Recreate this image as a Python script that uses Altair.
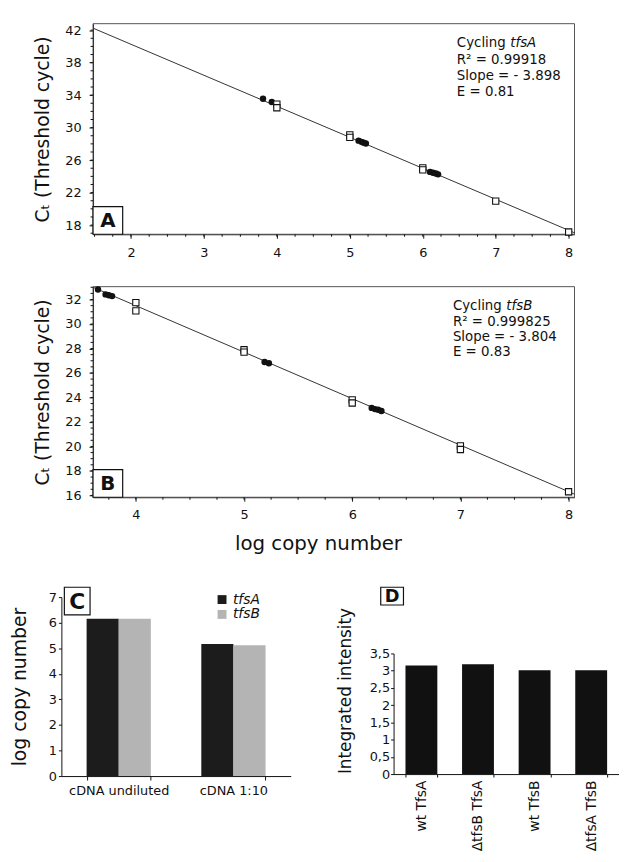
import altair as alt
import pandas as pd
import numpy as np

FONT = "DejaVu Sans"
INK = "#111111"

# ---------------- Panel A (tfsA standard curve) ----------------
a_std_x = [4, 4, 5, 5, 6, 6, 7, 8]
a_std_y = [32.9, 32.45, 29.1, 28.8, 25.05, 24.8, 20.95, 17.15]
a_smp_x = [3.81, 3.93, 5.12, 5.16, 5.19, 5.22, 6.10, 6.14, 6.18, 6.21]
a_smp_y = [33.55, 33.15, 28.4, 28.25, 28.15, 28.05, 24.55, 24.45, 24.35, 24.25]
a_fit_x = [1.48, 8.08]
a_fit_y = [42.25, 17.05]
a_xdom = [1.48, 8.08]
a_ydom = [16.87, 42.8]
a_xticks = [2, 3, 4, 5, 6, 7, 8]
a_yticks = [18, 22, 26, 30, 34, 38, 42]
a_xminor = list(np.arange(1.5, 8.01, 0.25))
a_yminor = list(range(17, 43))
a_gene = "tfsA"
a_lines = ["R² = 0.99918", "Slope = - 3.898", "E = 0.81"]

# ---------------- Panel B (tfsB standard curve) ----------------
b_std_x = [4, 4, 5, 5, 6, 6, 7, 7, 8]
b_std_y = [31.75, 31.07, 27.9, 27.7, 23.8, 23.55, 20.05, 19.75, 16.3]
b_smp_x = [3.65, 3.72, 3.75, 3.78, 5.19, 5.23, 6.18, 6.21, 6.24, 6.27]
b_smp_y = [32.82, 32.42, 32.35, 32.28, 26.9, 26.8, 23.15, 23.05, 23.0, 22.9]
b_fit_x = [3.604, 8.055]
b_fit_y = [33.0, 16.1]
b_xdom = [3.604, 8.055]
b_ydom = [15.85, 33.05]
b_xticks = [4, 5, 6, 7, 8]
b_yticks = [16, 18, 20, 22, 24, 26, 28, 30, 32]
b_xminor = list(np.arange(3.75, 8.01, 0.25))
b_yminor = list(np.arange(16, 33.01, 0.5))
b_gene = "tfsB"
b_lines = ["R² = 0.999825", "Slope = - 3.804", "E = 0.83"]

# ---------------- Panel C ----------------
c_cat = ["cDNA undiluted", "cDNA undiluted", "cDNA 1:10", "cDNA 1:10"]
c_series = ["tfsA", "tfsB", "tfsA", "tfsB"]
c_val = [6.15, 6.15, 5.17, 5.12]
c_order = ["cDNA undiluted", "cDNA 1:10"]
c_yticks = [0, 1, 2, 3, 4, 5, 6, 7]

# ---------------- Panel D ----------------
d_cat = ["wt TfsA", "ΔtfsB TfsA", "wt TfsB", "ΔtfsA TfsB"]
d_val = [3.15, 3.19, 3.01, 3.01]
d_yticks = [0, 0.5, 1, 1.5, 2, 2.5, 3, 3.5]


def txt(t, x, y, size, style="normal", weight="normal", align="left"):
    return alt.Chart(pd.DataFrame({"t": [t]})).mark_text(
        align=align, baseline="middle", fontSize=size, fontStyle=style,
        fontWeight=weight, font=FONT, color=INK
    ).encode(text="t:N", x=alt.value(x), y=alt.value(y))


def box(letter, x0, x1, y0, y1, size):
    b = alt.Chart(pd.DataFrame({"t": [letter]})).mark_rect(
        fill="white", stroke=INK, strokeWidth=1.2
    ).encode(x=alt.value(x0), x2=alt.value(x1), y=alt.value(y0), y2=alt.value(y1))
    return [b, txt(letter, (x0 + x1) / 2, (y0 + y1) / 2 + 1, size, weight="bold", align="center")]


INSET = 32  # plot area of panels A/B starts this far right of the column origin


def scatter_panel(std_x, std_y, smp_x, smp_y, fit_x, fit_y, xdom, ydom, xticks, yticks,
                  xminor, yminor, gene, lines, letter, tx, gap, x_title, W, H):
    xaxis = dict(values=xticks, tickSize=4, labelPadding=8, labelFontSize=13,
                 labelColor=INK, domainColor=INK, tickColor=INK, grid=False)
    xscale = alt.Scale(domain=xdom, nice=False, zero=False, range=[INSET, INSET + W])
    if x_title:
        X = alt.X("x:Q", scale=xscale,
                  axis=alt.Axis(title=x_title, titleFontSize=20, titleFontWeight="normal",
                                titlePadding=12, titleColor=INK, titleX=259.5,
                                **xaxis))
    else:
        X = alt.X("x:Q", scale=xscale, axis=alt.Axis(title=None, **xaxis))
    Y = alt.Y("y:Q", scale=alt.Scale(domain=ydom, nice=False, zero=False),
              axis=alt.Axis(values=yticks, tickSize=4, labelPadding=8, labelFontSize=13,
                            labelColor=INK, domainColor=INK, tickColor=INK, grid=False,
                            offset=-INSET,
                            title="Cₜ (Threshold cycle)", titleFontSize=19,
                            titleFontWeight="normal", titleColor=INK, titleX=-51,
                            titleBaseline="middle", titleAngle=270, titleAlign="center"))
    frame = alt.Chart(pd.DataFrame({"t": [letter]})).mark_rect(
        fillOpacity=0, stroke="#555555", strokeWidth=1
    ).encode(x=alt.value(INSET), x2=alt.value(INSET + W), y=alt.value(0), y2=alt.value(H))
    fit = alt.Chart(pd.DataFrame({"x": fit_x, "y": fit_y})).mark_line(
        color="#333333", strokeWidth=1).encode(x=X, y=Y)
    smp = alt.Chart(pd.DataFrame({"x": smp_x, "y": smp_y})).mark_circle(
        size=42, color=INK, opacity=1).encode(x=X, y=Y)
    std = alt.Chart(pd.DataFrame({"x": std_x, "y": std_y})).mark_square(
        size=40, fill="white", stroke=INK, strokeWidth=1.1, opacity=1).encode(x=X, y=Y)
    ymin = alt.Chart(pd.DataFrame({"y": yminor})).mark_rule(color=INK, strokeWidth=1).encode(
        y=Y, x=alt.value(INSET - 2.5), x2=alt.value(INSET))
    xmin = alt.Chart(pd.DataFrame({"x": xminor})).mark_rule(color=INK, strokeWidth=1).encode(
        x=X, y=alt.value(H), y2=alt.value(H + 2.5))
    ann = [txt("Cycling", INSET + tx, 20, 13.5),
           txt(gene, INSET + tx + 54, 20, 13.5, style="italic")]
    for i, t in enumerate(lines):
        ann.append(txt(t, INSET + tx, 20 + gap * (i + 1), 13.5))
    layers = [frame, ymin, xmin, fit, smp, std] + box(letter, INSET, INSET + 30, H - 28, H, 20) + ann
    return alt.layer(*layers).properties(width=INSET + W, height=H)


A = scatter_panel(a_std_x, a_std_y, a_smp_x, a_smp_y, a_fit_x, a_fit_y, a_xdom, a_ydom,
                  a_xticks, a_yticks, a_xminor, a_yminor, a_gene, a_lines, "A", 368, 16.5,
                  None, 487, 213)
B = scatter_panel(b_std_x, b_std_y, b_smp_x, b_smp_y, b_fit_x, b_fit_y, b_xdom, b_ydom,
                  b_xticks, b_yticks, b_xminor, b_yminor, b_gene, b_lines, "B", 364, 15.5,
                  "log copy number", 487, 213)

# ---- Panel C ----
c_df = pd.DataFrame({"cat": c_cat, "series": c_series, "val": c_val})
c_bars = alt.Chart(c_df).mark_bar().encode(
    x=alt.X("cat:N", sort=c_order,
            scale=alt.Scale(paddingInner=0.44, paddingOuter=0.22),
            axis=alt.Axis(title=None, labelAngle=0, tickBand="extent", tickSize=4,
                          labelPadding=5, labelFontSize=13, labelColor=INK,
                          domainColor=INK, tickColor=INK, grid=False)),
    xOffset=alt.XOffset("series:N", scale=alt.Scale(paddingInner=0, paddingOuter=0)),
    y=alt.Y("val:Q", scale=alt.Scale(domain=[0, 7], nice=False),
            axis=alt.Axis(values=c_yticks, tickSize=3, labelPadding=2, labelFontSize=13,
                          labelColor=INK, domainColor=INK, tickColor=INK, grid=False,
                          title="log copy number", titleFontSize=19, titleFontWeight="normal",
                          titleColor=INK, titleX=-42, titleBaseline="middle",
                          titleAngle=270, titleAlign="center")),
    color=alt.Color("series:N",
                    scale=alt.Scale(domain=["tfsA", "tfsB"], range=["#1c1c1c", "#b4b4b4"]),
                    legend=alt.Legend(orient="none", legendX=155.5, legendY=-4.5, title=None,
                                      symbolType="square", symbolSize=81,
                                      symbolStrokeWidth=0, labelFontSize=14,
                                      labelFontStyle="italic", labelColor=INK, padding=0,
                                      rowPadding=1, labelOffset=4)),
)
C = alt.layer(c_bars, *box("C", 3, 29, -10, 18, 22)).properties(width=232, height=181)

# ---- Panel D ----
D_H = 179
D_TOP = 57
d_df = pd.DataFrame({"cat": d_cat, "val": d_val})
d_bars = alt.Chart(d_df).mark_bar(color=INK).encode(
    x=alt.X("cat:N", sort=d_cat,
            scale=alt.Scale(paddingInner=0.437, paddingOuter=0.21),
            axis=alt.Axis(title=None, labelAngle=270, tickBand="extent", tickSize=3,
                          labelPadding=3, labelFontSize=14, labelColor=INK,
                          domainColor=INK, tickColor=INK, grid=False)),
    y=alt.Y("val:Q", scale=alt.Scale(domain=[0, 3.5], nice=False, range=[D_H, D_TOP]),
            axis=alt.Axis(values=d_yticks, tickSize=3, labelPadding=1, labelFontSize=13,
                          labelColor=INK, domainColor=INK, tickColor=INK, grid=False,
                          labelExpr="replace(toString(datum.value), '.', ',')",
                          title="Integrated intensity", titleFontSize=17,
                          titleFontWeight="normal", titleColor=INK, titleX=-49, titleY=94.5,
                          titleBaseline="middle", titleAngle=270, titleAlign="center")),
)
D = alt.layer(d_bars, *box("D", -13, 10, -10, 8, 18)).properties(width=228, height=D_H)

top = alt.vconcat(A, B, spacing=26)
bottom = alt.hconcat(C, D, spacing=46).resolve_legend(color="independent")

chart = alt.vconcat(top, bottom, spacing=33).resolve_legend(
    color="independent"
).properties(
    padding={"left": 3, "top": 10, "right": 0, "bottom": 0}
).configure(font=FONT).configure_view(stroke=None)

chart.save("out.html", embed_options={"renderer": "svg", "actions": False})
